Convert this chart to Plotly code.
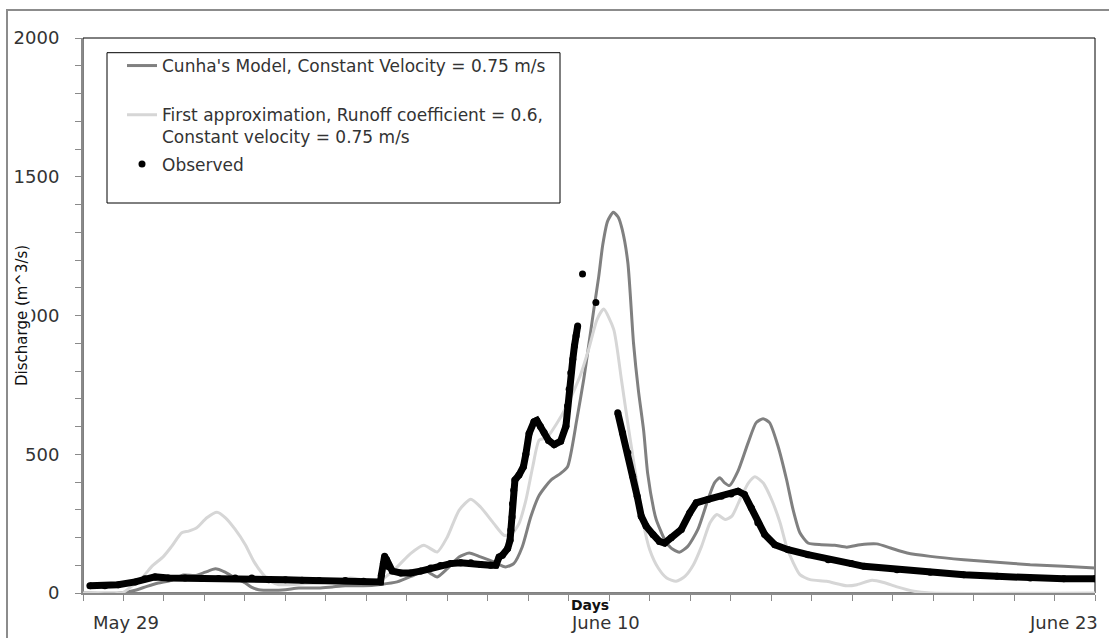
import plotly.graph_objects as go

# ---- data (days since May 29, discharge m^3/s) ----
cunha_day = [0.0, 0.95, 1.29, 1.58, 1.86, 2.19, 2.48, 2.77, 3.02, 3.27, 3.51, 3.76, 4.01, 4.17, 4.34,
             4.67, 5.0, 5.33, 5.83, 6.16, 6.48, 6.93, 7.35, 7.76, 8.17, 8.46, 8.59, 8.75, 9.0, 9.29,
             9.54, 9.82, 10.15, 10.44, 10.64, 10.85, 11.06, 11.27, 11.56, 11.8, 11.97, 12.2, 12.37,
             12.49, 12.62, 12.74, 12.84, 12.96, 13.1, 13.22, 13.32, 13.46, 13.6, 13.72, 13.85, 13.95,
             14.1, 14.16, 14.37, 14.53, 14.73, 14.94, 15.19, 15.44, 15.6, 15.73, 15.85, 15.97, 16.18,
             16.43, 16.63, 16.8, 16.96, 17.17, 17.38, 17.54, 17.71, 17.91, 18.24, 18.57, 18.87, 19.2,
             19.61, 19.95, 20.36, 20.93, 21.76, 22.58, 23.4, 24.23, 25.0]
cunha_q = [0, 0, 10, 24, 36, 46, 65, 63, 75, 87, 75, 54, 36, 20, 12,
           10, 12, 18, 18, 22, 26, 26, 31, 40, 64, 82, 70, 58, 88, 130,
           144, 130, 112, 94, 106, 166, 274, 352, 407, 431, 455, 626, 770,
           890, 1023, 1140, 1255, 1340, 1372, 1355, 1310, 1190, 900, 730, 585, 430,
           300, 265, 192, 162, 147, 168, 229, 337, 397, 415, 397, 387, 439,
           541, 614, 628, 614, 529, 409, 301, 217, 180, 174, 172, 165, 174,
           177, 162, 144, 132, 120, 111, 102, 96, 90]

approx_day = [0.0, 0.96, 1.2, 1.49, 1.7, 1.99, 2.19, 2.44, 2.61, 2.81, 3.06, 3.31, 3.52, 3.76, 4.01,
              4.22, 4.42, 4.63, 4.84, 5.5, 6.11, 6.6, 6.9, 7.35, 7.76, 8.09, 8.42, 8.75, 9.0, 9.29,
              9.58, 9.82, 10.15, 10.4, 10.6, 10.77, 10.94, 11.11, 11.27, 11.46, 11.7, 11.95, 12.28,
              12.49, 12.7, 12.86, 13.11, 13.3, 13.48, 13.65, 13.84, 14.0, 14.21, 14.42, 14.65, 14.87,
              15.08, 15.28, 15.49, 15.66, 15.86, 16.03, 16.23, 16.44, 16.6, 16.8, 17.01, 17.22, 17.38,
              17.55, 17.71, 17.96, 18.37, 18.87, 19.12, 19.49, 19.78, 20.11, 20.53, 20.93, 25.0]
approx_q = [0, 0, 24, 60, 96, 132, 168, 217, 223, 235, 271, 291, 271, 229, 174,
            114, 72, 42, 30, 34, 40, 54, 48, 46, 94, 142, 172, 148, 202, 298,
            338, 310, 250, 208, 214, 250, 334, 455, 551, 560, 610, 674, 782,
            878, 986, 1023, 950, 770, 590, 430, 253, 156, 90, 54, 42, 60,
            102, 168, 253, 283, 265, 277, 337, 397, 419, 397, 337, 253, 168,
            108, 66, 48, 42, 26, 30, 46, 38, 22, 6, 0, 0]

obs_day = [0.17, 0.54, 0.87, 1.29, 1.53, 1.78, 2.11, 2.52, 2.94, 3.35, 3.76, 4.17, 4.59, 5.0, 5.41,
           5.83, 6.48, 6.93, 7.35, 7.37, 7.42, 7.45, 7.5, 7.56, 7.64, 7.85, 8.09, 8.34, 8.59, 8.83,
           9.08, 9.33, 9.58, 9.82, 10.07, 10.2, 10.28, 10.36, 10.49, 10.55, 10.57, 10.6, 10.61, 10.64,
           10.67, 10.77, 10.88, 10.94, 11.02, 11.14, 11.21, 11.3, 11.39, 11.5, 11.64, 11.8, 11.93,
           11.97, 12.01, 12.05, 12.1, 12.14, 12.18, 12.22, None, 12.34, None, 12.67, None,
           13.21, 13.33, 13.46, 13.58, 13.69, 13.79, 13.91, 14.08, 14.24, 14.37, 14.53, 14.78, 14.99,
           15.15, 15.44, 15.77, 16.01, 16.18, 16.34, 16.51, 16.67, 16.84, 17.09, 17.42, 17.91, 18.41,
           18.98, 19.29, 20.11, 20.93, 21.76, 22.58, 23.4, 24.23, 25.0]
obs_q = [26, 26, 30, 40, 51, 58, 54, 54, 52, 52, 54, 54, 48, 48, 46,
         45, 45, 42, 40, 64, 106, 132, 120, 94, 79, 72, 72, 79, 90, 99,
         106, 109, 109, 103, 100, 100, 130, 136, 160, 190, 226, 274, 322, 370,
         407, 425, 455, 500, 575, 617, 622, 600, 578, 550, 535, 547, 601,
         674, 734, 794, 842, 890, 926, 962, None, 1150, None, 1047, None,
         650, 577, 505, 421, 349, 277, 241, 211, 186, 180, 199, 229, 289,
         325, 337, 349, 357, 367, 355, 307, 253, 211, 174, 156, 138, 120,
         106, 96, 84, 75, 66, 60, 54, 51, 51]

x_label_days = [0, 12, 25]
x_label_text = ["May 29", "June 10", "June 23"]

# ---- geometry helpers (pixels -> paper) ----
W, H = 1109, 638
L, R, T, B = 83, 1095, 38, 593
def px(x):
    return (x - L) / (R - L)
def py(y):
    return (B - y) / (B - T)

FONT = "DejaVu Sans"
TXT = "#333333"

fig = go.Figure()
fig.add_trace(go.Scatter(x=cunha_day, y=cunha_q, mode="lines", legendgroup="a",
                         line=dict(color="#808080", width=3, shape="spline", smoothing=0.6),
                         name="Cunha's Model, Constant Velocity = 0.75 m/s<br> "))
fig.add_trace(go.Scatter(x=approx_day, y=approx_q, mode="lines", legendgroup="b",
                         line=dict(color="#d6d6d6", width=3, shape="spline", smoothing=0.6),
                         name="First approximation, Runoff coefficient = 0.6,<br>Constant velocity = 0.75 m/s"))
fig.add_trace(go.Scatter(x=obs_day, y=obs_q, mode="lines", legendgroup="c",
                         line=dict(color="black", width=7), connectgaps=False,
                         showlegend=False, hoverinfo="skip"))
fig.add_trace(go.Scatter(x=obs_day, y=obs_q, mode="markers", legendgroup="c",
                         marker=dict(color="black", size=7), name="Observed"))

shapes = [
    # outer chart frame
    dict(type="rect", xref="paper", yref="paper", x0=px(7), x1=px(1115), y0=py(645), y1=py(10),
         line=dict(color="#8c8c8c", width=2), layer="below"),
    # plot area border
    dict(type="rect", xref="paper", yref="paper", x0=0, x1=1, y0=0, y1=1,
         line=dict(color="black", width=1), layer="below"),
    # legend box
    dict(type="rect", xref="paper", yref="paper", x0=px(107), x1=px(560), y0=py(203), y1=py(52.7),
         line=dict(color="black", width=1), fillcolor="white", layer="below"),
]

annotations = []
anchors = ["left", "left", "right"]
shifts = [8, 0, 5]
for d, t, a, s in zip(x_label_days, x_label_text, anchors, shifts):
    annotations.append(dict(x=d, y=py(622), xref="x", yref="paper", text=t, showarrow=False,
                            xanchor=a, yanchor="middle", xshift=s,
                            font=dict(family=FONT, size=18, color=TXT)))
annotations.append(dict(x=12, y=py(605), xref="x", yref="paper", text="<b>Days</b>", showarrow=False,
                        xanchor="left", yanchor="middle", font=dict(family=FONT, size=14, color="#111")))
annotations.append(dict(x=px(22), y=py(316), xref="paper", yref="paper", text="Discharge (m^3/s)",
                        showarrow=False, textangle=-90, xanchor="center", yanchor="middle",
                        bgcolor="white", borderpad=0,
                        font=dict(family=FONT, size=15, color="#111")))

fig.update_layout(
    width=W, height=H,
    margin=dict(l=L, r=W - R, t=T, b=H - B, pad=0),
    paper_bgcolor="white", plot_bgcolor="white",
    showlegend=True,
    legend=dict(x=px(122), y=py(48), xanchor="left", yanchor="top", valign="top",
                bgcolor="rgba(0,0,0,0)", borderwidth=0, traceorder="grouped", tracegroupgap=2,
                font=dict(family=FONT, size=17, color=TXT), itemwidth=30),
    shapes=shapes, annotations=annotations,
    font=dict(family=FONT),
)
fig.update_xaxes(range=[0, 25], showgrid=False, zeroline=False, showline=True,
                 linecolor="#8a8a8a", linewidth=2, ticks="outside", tick0=0, dtick=1,
                 ticklen=6, tickcolor="#8a8a8a", tickwidth=1, showticklabels=False)
fig.update_yaxes(range=[0, 2000], showgrid=False, zeroline=False, showline=True,
                 linecolor="#8a8a8a", linewidth=2, ticks="outside", tick0=0, dtick=500,
                 ticklen=6, tickcolor="#8a8a8a", tickwidth=1, ticklabelstandoff=12,
                 tickfont=dict(family=FONT, size=18, color=TXT),
                 minor=dict(dtick=100, ticks="outside", ticklen=6, tickcolor="#8a8a8a", tickwidth=1))

fig.write_html("out.html", config={"displayModeBar": False},
               post_script="document.body.style.margin='0';document.body.style.overflow='hidden';")
